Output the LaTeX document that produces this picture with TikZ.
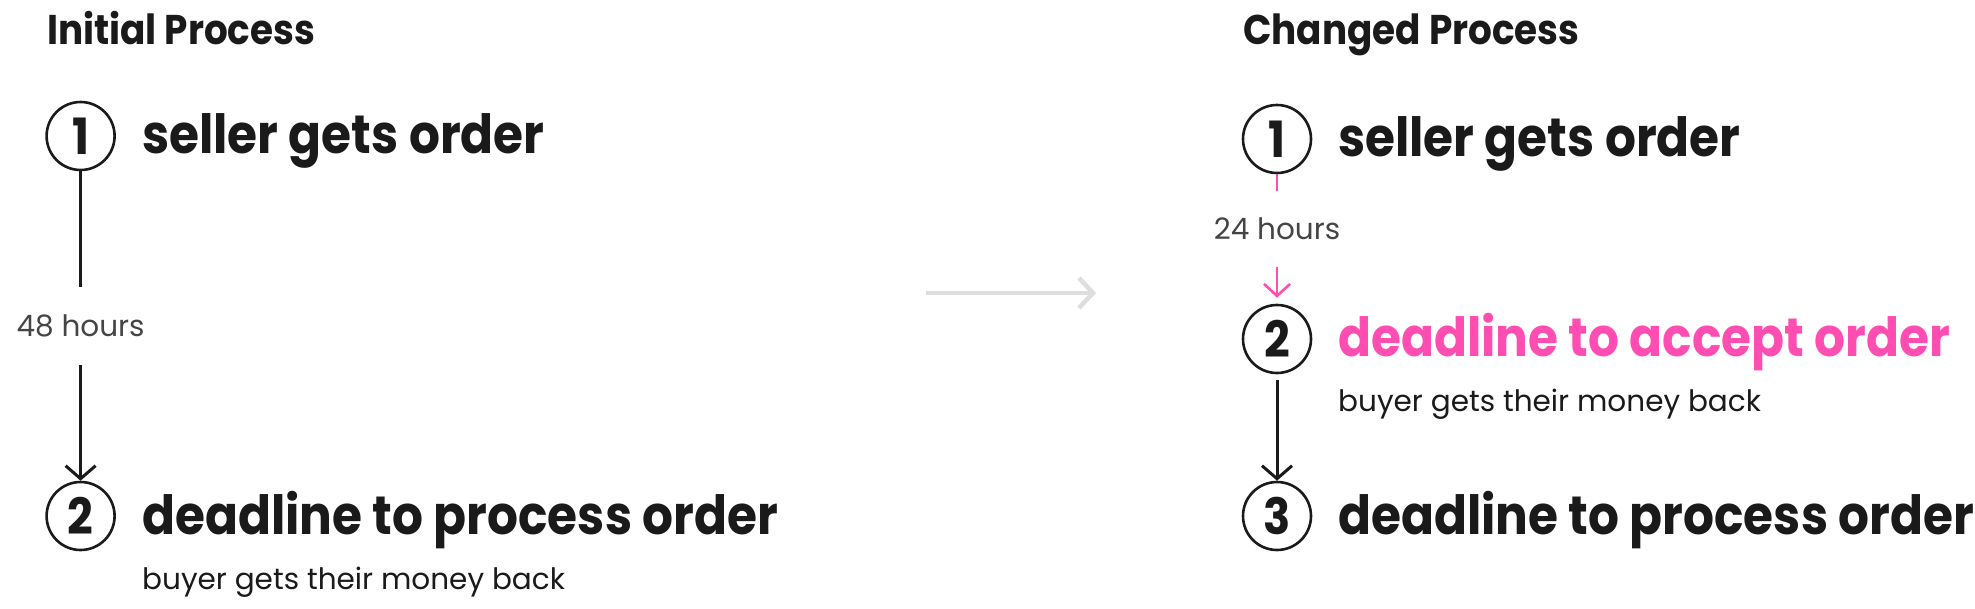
\documentclass[tikz,border=0pt]{standalone}
\usepackage{fontspec}
\setmainfont{Poppins}
\newfontfamily\stepf[FakeStretch=0.9]{Poppins}
\usetikzlibrary{arrows.meta}
\definecolor{ink}{HTML}{1A1A1A}
\definecolor{pinkc}{HTML}{FF4DB2}
\definecolor{graytxt}{HTML}{454545}
\definecolor{lightarrow}{HTML}{DEDEDE}
\begin{document}
\begin{tikzpicture}[x=1pt,y=-1pt]
\tikzset{
 stepcircle/.style={circle,draw=ink,line width=2.6pt,minimum size=68pt,inner sep=0pt,
   font=\stepf\bfseries\fontsize{50}{50}\selectfont,text=ink},
 heading/.style={anchor=base west,inner sep=0pt,font=\stepf\bfseries\fontsize{41.5}{41.5}\selectfont,text=ink},
 stepname/.style={anchor=base west,inner sep=0pt,font=\stepf\bfseries\fontsize{54}{54}\selectfont,text=ink},
 subnote/.style={anchor=base west,inner sep=0pt,font=\fontsize{29.5}{29.5}\selectfont,text=ink},
 duration/.style={minimum height=78pt,inner sep=0pt,font=\fontsize{29.5}{29.5}\selectfont,text=graytxt},
 flow/.style={draw=ink,line width=3pt},
 flowarrow/.style={flow,-{Straight Barb[length=13pt,width=30pt]}},
 pinkflow/.style={draw=pinkc,line width=2.6pt},
 pinkarrow/.style={pinkflow,-{Straight Barb[length=12pt,width=26pt]}},
 bigarrow/.style={draw=lightarrow,line width=4.5pt,-{Straight Barb[length=14pt,width=30pt]}}
}
\useasboundingbox (0,0) rectangle (1975,608);
\fill[white] (0,0) rectangle (1975,608);

% ---- left: initial process
\node[heading] (ltitle) at (47,44) {Initial Process};
\node[stepcircle] (l1) at (80.6,136) {1};
\node[stepname] (l1t) at (142,153) {seller gets order};
\node[duration] (l48) at (80.6,326) {48 hours};
\node[stepcircle] (l2) at (80.6,516) {2};
\node[stepname] (l2t) at (142,534) {deadline to process order};
\node[subnote] (l2n) at (142,589) {buyer gets their money back};
\draw[flow] (l1) -- (l48);
\draw[flowarrow] (l48) -- (l2);

% ---- middle arrow
\coordinate (ms) at (926,293);
\coordinate (me) at (1096,293);
\draw[bigarrow] (ms) -- (me);

% ---- right: changed process
\node[heading] (rtitle) at (1243,44) {Changed Process};
\node[stepcircle] (r1) at (1277,139) {1};
\node[stepname] (r1t) at (1338,156) {seller gets order};
\node[duration,minimum height=76pt] (r24) at (1277,229) {24 hours};
\node[stepcircle] (r2) at (1277,339) {2};
\node[stepname,text=pinkc] (r2t) at (1338,356) {deadline to accept order};
\node[subnote] (r2n) at (1338,411) {buyer gets their money back};
\node[stepcircle] (r3) at (1277,516) {3};
\node[stepname] (r3t) at (1338,534) {deadline to process order};
\draw[pinkflow] (r1) -- (r24);
\draw[pinkarrow,shorten >=6pt] (r24) -- (r2);
\draw[flowarrow,shorten <=6pt] (r2) -- (r3);
\end{tikzpicture}
\end{document}
